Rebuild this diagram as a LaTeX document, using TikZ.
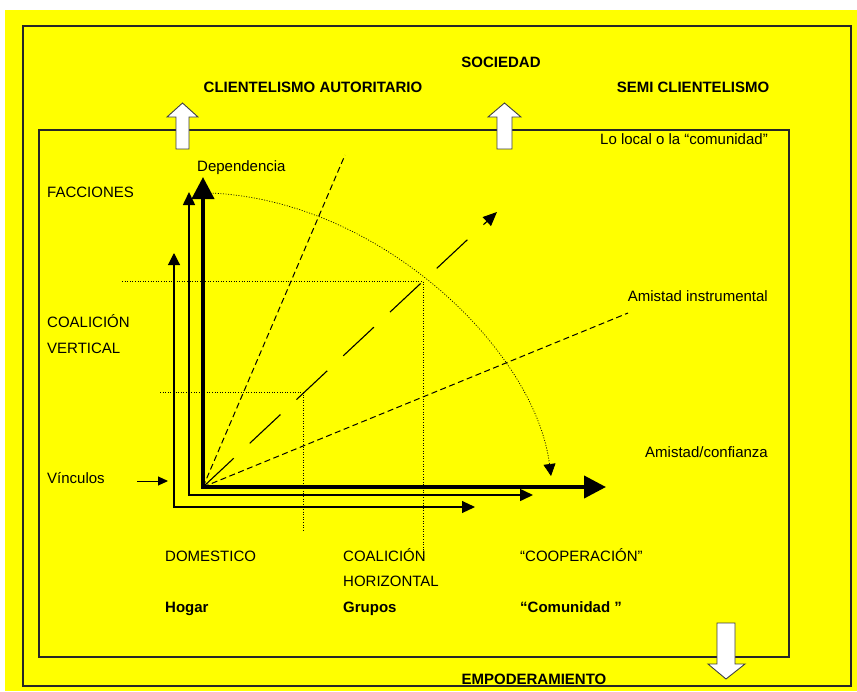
\documentclass[tikz,border=0pt]{standalone}
\usepackage{fontspec}
\setmainfont{Liberation Sans}
\usetikzlibrary{arrows.meta}
\definecolor{bgyellow}{RGB}{255,255,0}
\begin{document}
\begin{tikzpicture}[x=1pt,y=-1pt,
  lbl/.style={inner sep=0pt, font=\fontsize{15}{18}\selectfont},
  blbl/.style={inner sep=0pt, font=\fontsize{15}{18}\selectfont\bfseries},
  frame/.style={draw=black!85, line width=1.1pt},
  blockarrow/.style={fill=white, draw=black!75, line width=0.9pt, line join=miter},
  axisthick/.style={line width=4pt, line join=miter, {Triangle[length=22pt,width=22pt]}-{Triangle[length=22pt,width=22pt]}},
  axismid/.style={line width=1.6pt, line join=miter, {Triangle[length=13pt,width=12pt]}-{Triangle[length=13pt,width=12pt]}},
  axisthin/.style={line width=1.1pt, line join=miter, {Triangle[length=12pt,width=12pt]}-{Triangle[length=13pt,width=12pt]}},
  guide/.style={line width=0.7pt, dash pattern=on 1pt off 1.6pt},
  shortdash/.style={line width=1pt, dash pattern=on 6pt off 3.5pt},
  longdash/.style={line width=1.1pt, dash pattern=on 42pt off 22pt, -{Triangle[length=14pt,width=12pt]}},
  arcline/.style={line width=0.7pt, dash pattern=on 1pt off 1.6pt, -{Triangle[length=12pt,width=12pt]}}
]
\useasboundingbox (0,0) rectangle (857,691);
\fill[white] (0,0) rectangle (857,691);
\fill[bgyellow] (5,10) rectangle (857,691);

% frames
\draw[frame] (23,26) rectangle (851,686);
\draw[frame] (39,130) rectangle (789,657);

% block arrows
\draw[blockarrow] (176,149) -- (176,117) -- (167,117) -- (182.5,103) -- (198,117) -- (189,117) -- (189,149) -- cycle;
\draw[blockarrow] (497,149) -- (497,117) -- (488,117) -- (504.5,103) -- (521,117) -- (512,117) -- (512,149) -- cycle;
\draw[blockarrow] (717,623) -- (735,623) -- (735,664) -- (745,664) -- (726,679) -- (708,664) -- (717,664) -- cycle;

% key coordinates
\coordinate (O) at (203,487);
\coordinate (ythick) at (203,177);
\coordinate (xthick) at (606,487);
\coordinate (ymid) at (189,192);
\coordinate (cmid) at (189,495);
\coordinate (xmid) at (533,495);
\coordinate (ythin) at (174,253);
\coordinate (cthin) at (174,507);
\coordinate (xthin) at (475,507);
\coordinate (steep) at (345,155);
\coordinate (diag) at (497,212);
\coordinate (shallow) at (628,313);
\coordinate (arcA) at (210,193);
\coordinate (arcB) at (551,476);
\coordinate (g1a) at (122,281);
\coordinate (g1b) at (423,281);
\coordinate (g1c) at (423,562);
\coordinate (g2a) at (160,392);
\coordinate (g2b) at (303,392);
\coordinate (g2c) at (303,532);
\coordinate (va) at (137,481);
\coordinate (vb) at (168,481);

% guides
\draw[guide] (g1a) -- (g1b) -- (g1c);
\draw[guide] (g2a) -- (g2b) -- (g2c);

% axes
\draw[axisthin] (ythin) -- (cthin) -- (xthin);
\draw[axismid] (ymid) -- (cmid) -- (xmid);
\draw[axisthick] (ythick) -- (O) -- (xthick);

% rays
\draw[shortdash] (O) -- (steep);
\draw[shortdash] (O) -- (shallow);
\draw[longdash] (O) -- (diag);
\draw[arcline] (arcA) .. controls (380,200) and (535,350) .. (arcB);

% vinculos arrow
\draw[line width=1pt, -{Triangle[length=10pt,width=9pt]}] (va) -- (vb);

% texts
\node[blbl, anchor=base] (soc) at (501,67.5) {SOCIEDAD};
\node[blbl, anchor=base] (cla) at (313,92.5) {CLIENTELISMO AUTORITARIO};
\node[blbl, anchor=base] (scl) at (693,92.5) {SEMI CLIENTELISMO};
\node[lbl, anchor=base east] (loc) at (768,144) {Lo local o la “comunidad”};
\node[lbl, anchor=base west] (dep) at (197,171) {Dependencia};
\node[lbl, anchor=base west] (fac) at (47,197) {FACCIONES};
\node[lbl, anchor=base west] (cv1) at (47,327) {COALICIÓN};
\node[lbl, anchor=base west] (cv2) at (47,353) {VERTICAL};
\node[lbl, anchor=base east] (ains) at (768,301) {Amistad instrumental};
\node[lbl, anchor=base east] (acon) at (768,457) {Amistad/confianza};
\node[lbl, anchor=base west] (vin) at (47,483) {Vínculos};
\node[lbl, anchor=base west] (dom) at (165,561) {DOMESTICO};
\node[lbl, anchor=base west] (ch1) at (343,561) {COALICIÓN};
\node[lbl, anchor=base west] (ch2) at (343,586) {HORIZONTAL};
\node[lbl, anchor=base west] (coop) at (520,561) {“COOPERACIÓN”};
\node[blbl, anchor=base west] (hog) at (165,612) {Hogar};
\node[blbl, anchor=base west] (gru) at (343,612) {Grupos};
\node[blbl, anchor=base west] (com) at (520,612) {“Comunidad ”};
\node[blbl, anchor=base] (emp) at (534,684) {EMPODERAMIENTO};
\end{tikzpicture}
\end{document}
